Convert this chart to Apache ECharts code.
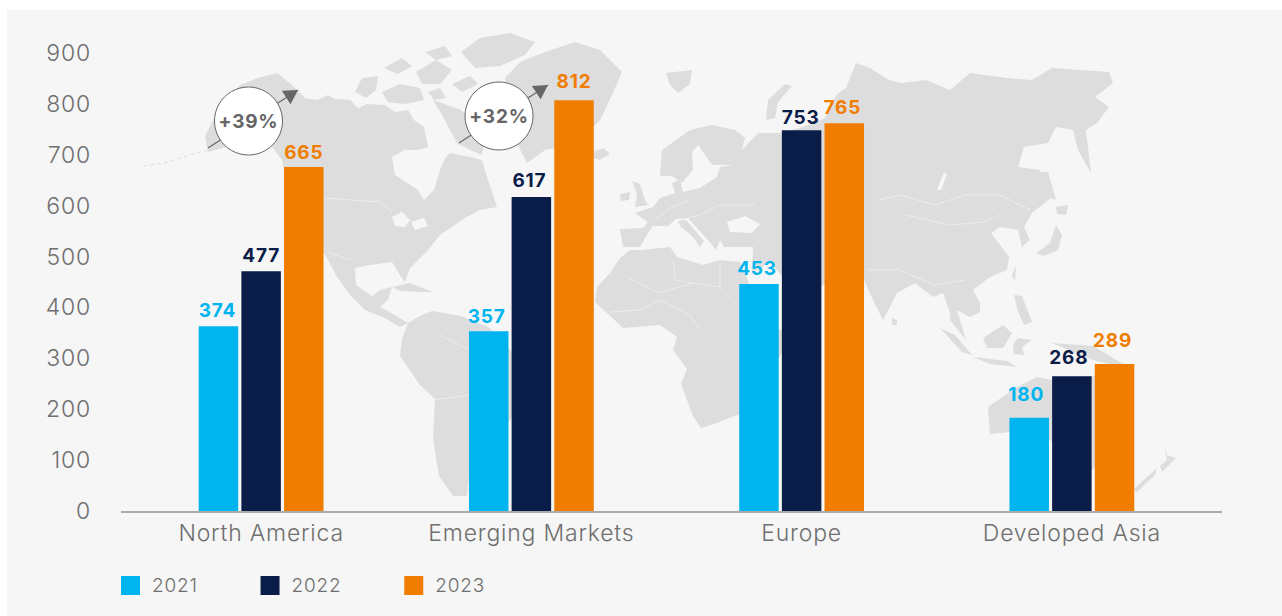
<!DOCTYPE html>
<html>
<head>
<meta charset="utf-8">
<style>
  html, body { margin: 0; padding: 0; background: #fff; }
  #chart { width: 1282px; height: 616px; }
  /* the reference face runs wider than anything installed */
  #chart text { letter-spacing: 0.8px; }
</style>
<script src="https://cdn.jsdelivr.net/npm/echarts@6/dist/echarts.min.js"></script>
</head>
<body>
<div id="chart"></div>
<script>
const categories = ["North America", "Emerging Markets", "Europe", "Developed Asia"];
const years = ["2021", "2022", "2023"];

// bar heights as drawn, read against the axis (they sit a little off the printed numbers)
const bars2021 = [363, 353, 446, 183];
const bars2022 = [471, 617, 748, 265];
const bars2023 = [676, 807, 762, 289];

// numbers printed above the bars
const printed2021 = [374, 357, 453, 180];
const printed2022 = [477, 617, 753, 268];
const printed2023 = [665, 812, 765, 289];

const colors = ["#00b5ef", "#0a1c48", "#f07d00"];
const textGrey = "#6f6f6f";
const landColor = "#dddddd";
const panelColor = "#f6f6f6";
const labelFont = "Inter, 'Open Sans', sans-serif";

// label tweaks: the printed numbers are not evenly placed above the bars
const labelLift = [
  [6, 5, 6, 14],
  [6, 7, 3, 9],
  [5, 9, 6, 14],
];
const labelShift = [
  [-1, -2, -2, -3],
  [0, -2, -1, -3],
  [0, 0, -2, -2],
];

// background world map, page pixels, hand traced and simplified
const land = [
  // north america
  [[205,136],[212,122],[226,104],[240,85],[258,78],[277,73],[292,85],[305,98],[318,100],[328,95],[335,99],[350,100],[358,108],[367,104],[385,105],[395,112],[408,110],[414,120],[424,127],[428,147],[418,150],[405,150],[392,157],[395,175],[418,190],[424,200],[434,190],[440,170],[445,158],[450,153],[470,157],[482,160],[488,180],[497,207],[480,210],[465,218],[440,235],[428,250],[410,268],[405,282],[400,275],[392,262],[370,265],[355,268],[356,285],[372,296],[380,290],[392,287],[388,300],[380,307],[395,315],[408,323],[400,327],[385,318],[365,310],[350,295],[337,277],[327,258],[322,250],[318,230],[300,200],[286,180],[282,160],[262,133],[242,136],[230,146],[208,152]],
  // arctic islands
  [[355,92],[362,78],[378,76],[376,90],[366,98]],
  [[382,92],[400,84],[420,88],[424,100],[405,104],[388,102]],
  [[384,68],[402,58],[412,66],[398,74]],
  [[416,72],[436,60],[452,70],[440,84],[422,84]],
  [[425,52],[445,46],[452,56],[436,60]],
  [[461,52],[480,38],[510,33],[535,42],[525,55],[500,66],[475,68]],
  [[433,100],[461,110],[486,133],[482,155],[470,150],[457,143],[441,113]],
  [[428,92],[440,88],[446,98],[434,100]],
  [[452,84],[470,76],[478,84],[462,92]],
  // greenland
  [[505,78],[520,62],[545,52],[575,42],[600,50],[622,72],[612,95],[600,120],[575,145],[545,150],[527,163],[518,145],[510,115]],
  // caribbean
  [[392,287],[410,283],[433,292],[420,292],[400,291]],
  // south america
  [[408,323],[420,316],[432,311],[461,316],[490,328],[510,350],[530,370],[525,395],[510,420],[490,440],[470,465],[467,496],[453,496],[439,476],[433,439],[435,399],[420,385],[400,356],[402,339]],
  // iceland, uk, ireland
  [[592,152],[604,148],[610,154],[600,160],[594,158]],
  [[632,181],[640,184],[645,200],[648,205],[635,207],[637,194]],
  [[620,194],[630,192],[629,200],[621,201]],
  // svalbard, novaya zemlya
  [[666,73],[692,70],[690,84],[678,93],[670,85]],
  [[766,120],[768,100],[785,84],[792,86],[778,102],[775,118]],
  // eurasia
  [[623,247],[620,229],[643,228],[648,222],[635,213],[653,207],[660,198],[675,193],[672,183],[680,180],[683,192],[700,188],[717,177],[720,167],[733,165],[712,165],[703,152],[698,145],[692,152],[693,170],[682,183],[672,176],[660,176],[662,150],[690,130],[712,125],[735,130],[745,138],[742,150],[758,133],[779,133],[800,128],[825,118],[836,95],[846,88],[856,63],[870,68],[889,80],[901,83],[926,80],[950,90],[970,73],[1007,78],[1032,80],[1052,68],[1109,72],[1113,83],[1095,97],[1109,107],[1097,123],[1086,130],[1091,173],[1078,150],[1073,130],[1056,127],[1048,143],[1024,147],[1018,167],[1040,170],[1052,197],[1032,213],[1024,227],[1030,240],[1022,247],[1018,230],[1000,227],[991,233],[1009,257],[1007,270],[990,277],[973,290],[980,303],[980,312],[970,317],[957,310],[966,340],[950,320],[950,313],[943,293],[933,297],[915,283],[897,293],[890,307],[883,320],[873,300],[864,280],[850,275],[830,285],[790,285],[770,262],[752,273],[753,247],[724,247],[720,240],[716,250],[708,240],[688,218],[676,219],[668,226],[653,226],[648,233],[640,247]],
  // italy
  [[678,221],[686,220],[704,241],[700,247],[692,236],[680,226]],
  // japan, sakhalin
  [[1036,253],[1050,243],[1056,225],[1062,235],[1058,250],[1044,256]],
  [[1056,207],[1068,205],[1066,215],[1057,214]],
  [[1041,172],[1048,172],[1056,200],[1050,198]],
  // africa
  [[630,250],[642,250],[670,247],[677,257],[703,265],[720,260],[740,262],[752,290],[770,325],[792,335],[775,365],[765,385],[760,410],[734,416],[717,423],[701,428],[693,416],[681,384],[687,369],[673,350],[677,337],[660,325],[623,328],[607,313],[595,302],[597,287],[610,273],[620,258]],
  // southeast asia and oceania
  [[892,318],[897,320],[897,325],[892,325]],
  [[1012,275],[1016,265],[1015,281]],
  [[1014,295],[1022,296],[1032,322],[1024,325],[1018,312]],
  [[940,328],[955,335],[972,355],[962,352]],
  [[983,338],[1003,325],[1012,333],[1003,348],[987,348]],
  [[973,357],[1007,361],[1017,367],[990,364]],
  [[1013,345],[1018,338],[1032,340],[1022,347],[1024,355],[1014,354]],
  [[1052,343],[1093,346],[1120,362],[1135,370],[1093,360]],
  [[988,407],[1017,387],[1037,377],[1052,380],[1100,375],[1133,430],[1133,455],[1090,470],[1050,440],[1010,432],[990,434]],
  [[1133,490],[1157,468],[1155,475],[1137,492]],
  [[1164,443],[1167,455],[1176,458],[1162,472],[1160,466],[1167,460]],
];

// water cut back out of the land
const water = [
  [[392,217],[402,212],[410,220],[405,227],[395,226]],
  [[411,222],[424,218],[428,226],[415,230]],
  [[727,222],[745,216],[760,224],[752,233],[730,232]],
  [[937,190],[944,172],[947,174],[941,190]],
];

// thin country lines, only the ones you can actually see
const borders = [
  [[322,198],[380,202],[392,212]],
  [[350,260],[330,253],[322,247]],
  [[628,278],[660,293],[692,283],[720,287]],
  [[673,260],[675,280],[692,283]],
  [[720,262],[720,287],[745,312]],
  [[610,312],[640,310],[660,300],[690,315],[700,330]],
  [[440,335],[470,350],[500,380]],
  [[433,400],[470,395],[490,440]],
  [[878,200],[900,195],[935,205],[965,195],[1000,195],[1030,210]],
  [[905,215],[950,225],[985,222],[1000,215]],
  [[868,270],[900,270],[935,285],[965,280]],
  [[680,220],[700,215],[720,205],[755,205]],
  [[655,220],[670,208],[690,200]],
];

// callouts with the growth figures
const callouts = [
  { text: "+39%", cx: 248.5, cy: 121, from: [208, 148], to: [298, 90] },
  { text: "+32%", cx: 499, cy: 116, from: [459, 143], to: [548, 85] },
];

function seriesFor(i, values, printed) {
  return {
    name: years[i],
    type: "bar",
    barWidth: 39.5,
    barGap: "8%",
    itemStyle: { color: colors[i] },
    data: values.map((v, k) => ({
      value: v,
      label: {
        show: true,
        position: "top",
        distance: labelLift[i][k],
        offset: [labelShift[i][k], 0],
        formatter: String(printed[k]),
        color: colors[i],
        fontFamily: labelFont,
        fontWeight: 700,
        fontSize: 19,
      },
    })),
  };
}

function mapGraphics() {
  const items = [
    { type: "rect", z: -10, silent: true, shape: { x: 7, y: 10, width: 1275, height: 606 }, style: { fill: panelColor } },
  ];
  land.forEach((points) => {
    items.push({ type: "polygon", z: -9, silent: true, shape: { points: points }, style: { fill: landColor } });
  });
  water.forEach((points) => {
    items.push({ type: "polygon", z: -8, silent: true, shape: { points: points }, style: { fill: panelColor } });
  });
  borders.forEach((points) => {
    items.push({ type: "polyline", z: -8, silent: true, shape: { points: points }, style: { stroke: "#ececec", lineWidth: 1, fill: null } });
  });
  // aleutians
  items.push({ type: "polyline", z: -9, silent: true, shape: { points: [[143,166],[165,163],[190,155],[208,150]] }, style: { stroke: landColor, lineWidth: 1, lineDash: [4, 3], fill: null } });
  return items;
}

function calloutGraphics() {
  const items = [];
  callouts.forEach((c) => {
    const angle = Math.atan2(c.to[1] - c.from[1], c.to[0] - c.from[0]);
    items.push({
      type: "line", z: 20, silent: true,
      shape: { x1: c.from[0], y1: c.from[1], x2: c.to[0], y2: c.to[1] },
      style: { stroke: "#666", lineWidth: 1.2 },
    });
    const back = 14, half = 8;
    const bx = c.to[0] - back * Math.cos(angle), by = c.to[1] - back * Math.sin(angle);
    items.push({
      type: "polygon", z: 20, silent: true,
      shape: { points: [
        c.to,
        [bx - half * Math.sin(angle), by + half * Math.cos(angle)],
        [bx + half * Math.sin(angle), by - half * Math.cos(angle)],
      ] },
      style: { fill: "#666" },
    });
    items.push({
      type: "circle", z: 21, silent: true,
      shape: { cx: c.cx, cy: c.cy, r: 34 },
      style: { fill: "#fff", stroke: "#666", lineWidth: 1 },
    });
    items.push({
      type: "text", z: 22, silent: true,
      x: c.cx, y: c.cy,
      style: { text: c.text, fill: "#666", font: "700 19px " + labelFont, textAlign: "center", textVerticalAlign: "middle" },
    });
  });
  return items;
}

const chart = echarts.init(document.getElementById("chart"), null, { renderer: "svg" });
chart.setOption({
  animation: false,
  grid: { left: 126, right: 75, top: 53, bottom: 105, containLabel: false },
  legend: {
    left: 116,
    top: 571,
    icon: "rect",
    itemWidth: 19,
    itemHeight: 19,
    itemGap: 66,
    selectedMode: false,
    data: years,
    textStyle: { color: textGrey, fontFamily: labelFont, fontWeight: 300, fontSize: 19, width: 46, padding: [5, 0, 0, 7] },
  },
  xAxis: {
    type: "category",
    data: categories,
    axisLine: { show: false },
    axisTick: { show: false },
    axisLabel: { color: textGrey, fontFamily: labelFont, fontWeight: 300, fontSize: 23, margin: 10 },
  },
  yAxis: {
    type: "value",
    min: 0,
    max: 900,
    interval: 100,
    axisLine: { show: false },
    axisTick: { show: false },
    splitLine: { show: false },
    axisLabel: { color: textGrey, fontFamily: labelFont, fontWeight: 300, fontSize: 23, margin: 35, padding: [0, 0, 2, 0] },
  },
  series: [
    seriesFor(0, bars2021, printed2021),
    seriesFor(1, bars2022, printed2022),
    seriesFor(2, bars2023, printed2023),
  ],
  graphic: {
    elements: mapGraphics()
      .concat([{ type: "rect", z: 5, silent: true, shape: { x: 121, y: 511, width: 1101, height: 2 }, style: { fill: "#ababab" } }])
      .concat(calloutGraphics()),
  },
});
</script>
</body>
</html>
